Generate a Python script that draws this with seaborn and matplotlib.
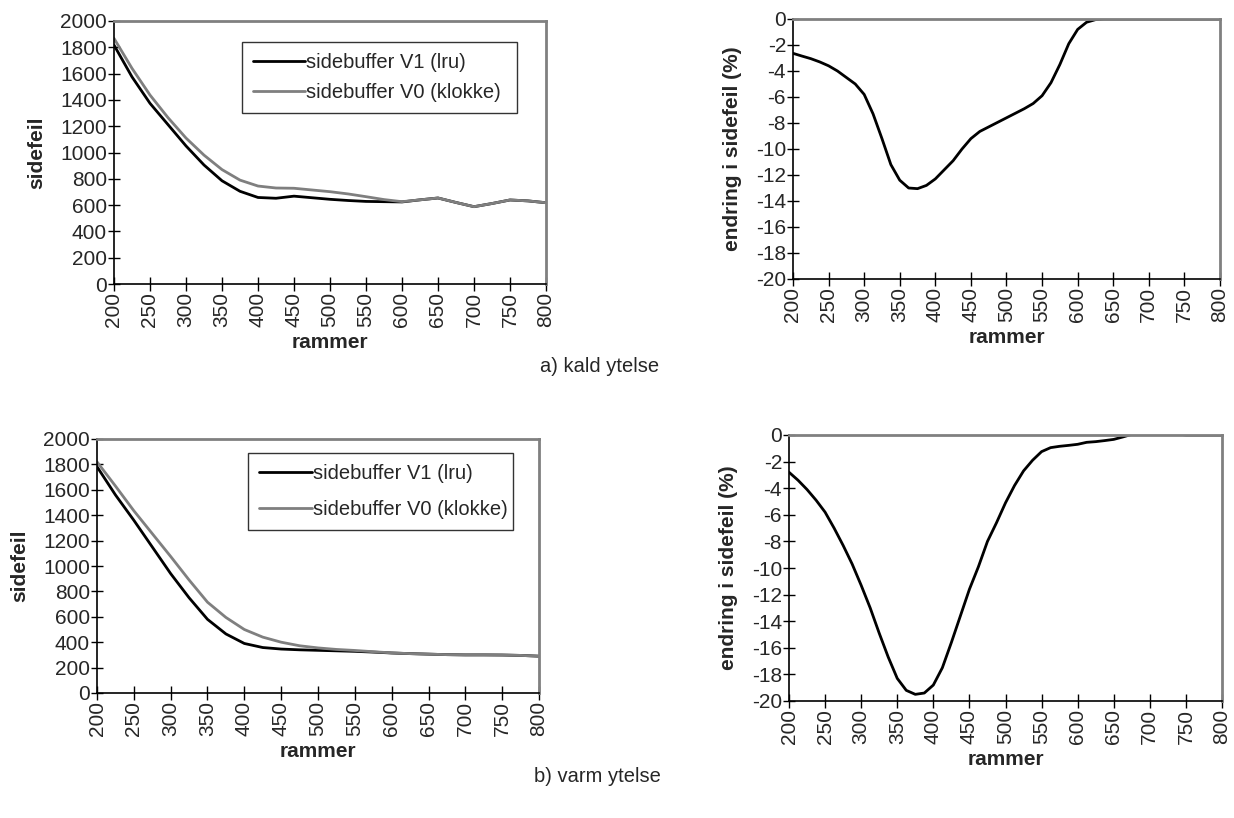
import numpy as np
import pandas as pd
import matplotlib
matplotlib.use("Agg")
import matplotlib.pyplot as plt
import seaborn as sns

# ---------------- data ----------------
frames = [200, 225, 250, 275, 300, 325, 350, 375, 400, 425, 450, 475, 500,
          525, 550, 575, 600, 625, 650, 675, 700, 725, 750, 775, 800]

frames_fine = [200, 212.5, 225, 237.5, 250, 262.5, 275, 287.5, 300, 312.5, 325, 337.5,
               350, 362.5, 375, 387.5, 400, 412.5, 425, 437.5, 450, 462.5, 475, 487.5,
               500, 512.5, 525, 537.5, 550, 562.5, 575, 587.5, 600, 612.5, 625, 637.5,
               650, 662.5, 675, 687.5, 700, 712.5, 725, 737.5, 750, 762.5, 775, 787.5, 800]

# a) kald ytelse
kald_v1 = [1817, 1575, 1374, 1212, 1050, 905, 785, 705, 658, 652, 668, 656, 644,
           635, 628, 626, 624, 640, 654, 620, 588, 612, 639, 632, 618]
kald_v0 = [1868, 1640, 1437, 1265, 1110, 980, 870, 790, 745, 730, 728, 715, 702,
           685, 664, 642, 626, 640, 654, 620, 588, 612, 639, 632, 618]
kald_endring = [-2.64, -2.85, -3.05, -3.3, -3.6, -4.0, -4.5, -5.0, -5.8, -7.3, -9.2, -11.2,
                -12.4, -13.0, -13.05, -12.8, -12.3, -11.6, -10.9, -10.0, -9.2, -8.65, -8.3, -7.95,
                -7.6, -7.25, -6.9, -6.5, -5.9, -4.9, -3.5, -1.9, -0.8, -0.25, -0.05, 0.0,
                0.0, 0.0, 0.0, 0.0, 0.0, 0.0, 0.0, 0.0, 0.0, 0.0, 0.0, 0.0, 0.0]

# b) varm ytelse
varm_v1 = [1782, 1560, 1360, 1150, 940, 750, 580, 465, 390, 358, 346, 340, 336,
           332, 328, 322, 315, 310, 306, 302, 300, 300, 299, 296, 290]
varm_v0 = [1820, 1630, 1435, 1255, 1075, 890, 715, 595, 500, 440, 400, 372, 355,
           343, 335, 325, 316, 310, 306, 302, 300, 300, 299, 296, 290]
varm_endring = [-2.8, -3.4, -4.1, -4.9, -5.8, -7.0, -8.3, -9.7, -11.3, -13.0, -14.9, -16.7,
                -18.3, -19.2, -19.5, -19.4, -18.8, -17.5, -15.6, -13.6, -11.6, -9.9, -8.0, -6.6,
                -5.1, -3.8, -2.7, -1.9, -1.25, -0.95, -0.85, -0.78, -0.7, -0.55, -0.5, -0.42,
                -0.33, -0.15, 0.05, 0.25, 0.35, 0.33, 0.2, 0.08, 0.0, 0.0, 0.0, 0.0, 0.0]

labels = ["sidebuffer V1 (lru)", "sidebuffer V0 (klokke)"]
xticks = list(range(200, 801, 50))
captions = ["a) kald ytelse", "b) varm ytelse"]

# ---------------- style ----------------
sns.set_style("white")
plt.rcParams['font.family'] = ['Liberation Sans', 'DejaVu Sans']
plt.rcParams['axes.unicode_minus'] = False
FS = 15
LFS = 14.5

W, H = 1234, 818
fig = plt.figure(figsize=(W / 100, H / 100), dpi=100)


def px_axes(l, r, t, b):
    return fig.add_axes([l / W, (H - b) / H, (r - l) / W, (b - t) / H])


def style_axes(ax):
    for s in ['top', 'right']:
        ax.spines[s].set_color('#808080')
        ax.spines[s].set_linewidth(2)
    for s in ['left', 'bottom']:
        ax.spines[s].set_color('black')
        ax.spines[s].set_linewidth(1.2)
    ax.tick_params(axis='x', direction='inout', length=10, width=1,
                   color='black', labelsize=FS, pad=1, bottom=True)
    ax.tick_params(axis='y', direction='inout', length=8, width=1,
                   color='black', labelsize=FS, pad=1, left=True)
    ax.set_xlim(200, 800)
    ax.set_xticks(xticks)
    ax.set_xticklabels([str(v) for v in xticks], rotation=90)
    ax.set_xlabel("rammer", fontsize=FS, fontweight='bold', labelpad=4)
    ax.grid(False)


def sidefeil_panel(ax, v1, v0, legend_box, spacing):
    df = pd.DataFrame({
        "rammer": frames * 2,
        "sidefeil": v1 + v0,
        "serie": [labels[0]] * len(frames) + [labels[1]] * len(frames),
    })
    sns.lineplot(data=df, x="rammer", y="sidefeil", hue="serie",
                 palette={labels[0]: "black", labels[1]: "#7f7f7f"},
                 linewidth=2, ax=ax)
    style_axes(ax)
    ax.set_ylim(0, 2000)
    ax.set_yticks(range(0, 2001, 200))
    ax.set_ylabel("sidefeil", fontsize=FS, fontweight='bold', labelpad=10)
    leg = ax.legend(loc='upper left', bbox_to_anchor=legend_box, mode='expand',
                    fontsize=LFS, frameon=True, fancybox=False, edgecolor='black',
                    handlelength=2.6, handletextpad=0.05, labelspacing=spacing,
                    borderpad=0.55, borderaxespad=0)
    leg.get_frame().set_linewidth(1.0)


def endring_panel(ax, vals):
    df = pd.DataFrame({"rammer": frames_fine, "endring": vals})
    sns.lineplot(data=df, x="rammer", y="endring", color="black", linewidth=2, ax=ax)
    style_axes(ax)
    ax.set_ylim(-20, 0)
    ax.set_yticks(range(-20, 1, 2))
    ax.set_ylabel("endring i sidefeil (%)", fontsize=FS, fontweight='bold', labelpad=10)


ax1 = px_axes(114, 546, 21, 284)
sidefeil_panel(ax1, kald_v1, kald_v0, (0.296, 0.5, 0.637, 0.42), 0.55)
ax2 = px_axes(793, 1220, 19, 279)
endring_panel(ax2, kald_endring)

ax3 = px_axes(97, 539, 439, 693)
sidefeil_panel(ax3, varm_v1, varm_v0, (0.342, 0.5, 0.599, 0.445), 0.85)
ax4 = px_axes(789, 1222, 435, 701)
endring_panel(ax4, varm_endring)

fig.text(600 / W, 1 - 367 / H, captions[0], ha='center', va='center', fontsize=14.5)
fig.text(597 / W, 1 - 776 / H, captions[1], ha='center', va='center', fontsize=14.5)

fig.savefig("out.png", dpi=100)
